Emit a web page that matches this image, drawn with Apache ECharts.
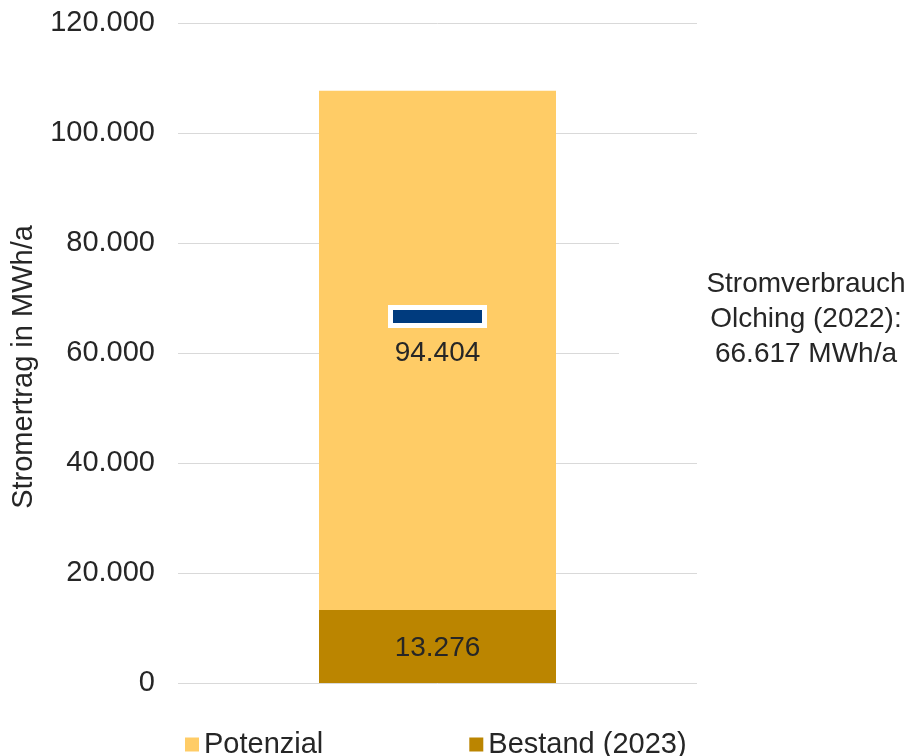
<!DOCTYPE html>
<html>
<head>
<meta charset="utf-8">
<script src="https://cdn.jsdelivr.net/npm/echarts@6/dist/echarts.min.js"></script>
<style>html,body{margin:0;padding:0;background:#fff;}#c{width:909px;height:756px;}</style>
</head>
<body>
<div id="c"></div>
<script>
var categories = ['Olching'];
var bestand = [13276];
var potenzial = [94404];
var verbrauch = [66617];
var seriesNames = ['Potenzial', 'Bestand (2023)'];
var yTitle = 'Stromertrag in MWh/a';
var noteLines = ['Stromverbrauch', 'Olching (2022):', '66.617 MWh/a'];

function de(v) { return String(v).replace(/\B(?=(\d{3})+(?!\d))/g, '.'); }

var FONT = '"Liberation Sans", Arial, sans-serif';
var TXT = '#262626';
var chart = echarts.init(document.getElementById('c'));
chart.setOption({
  animation: false,
  textStyle: { fontFamily: FONT },
  grid: { left: 178, right: 212, top: 23, bottom: 73 },
  legend: {
    data: seriesNames,
    left: 180, top: 725,
    itemWidth: 14, itemHeight: 14, itemGap: 146, itemTextGap: 8,
    icon: 'rect',
    textStyle: { fontSize: 29, color: TXT, fontFamily: FONT }
  },
  xAxis: {
    type: 'category', data: categories,
    axisLine: { show: false }, axisTick: { show: false }, axisLabel: { show: false }
  },
  yAxis: {
    type: 'value', min: 0, max: 120000, interval: 20000,
    axisLine: { show: false }, axisTick: { show: false },
    axisLabel: { fontSize: 29, color: TXT, margin: 23, formatter: function (v) { return de(v); } },
    splitLine: { lineStyle: { color: '#d9d9d9', width: 1 } }
  },
  graphic: [
    { type: 'text', x: 24, y: 367, rotation: Math.PI / 2, style: { text: yTitle, textAlign: 'center', textVerticalAlign: 'middle', font: '29px ' + FONT, fill: TXT } },
    { type: 'rect', z: 10, shape: { x: 619, y: 236, width: 290, height: 124 }, style: { fill: '#fff' } },
    { type: 'text', z: 11, x: 806, y: 267, style: { text: noteLines.join('\n'), textAlign: 'center', font: '28px ' + FONT, fill: TXT, lineHeight: 35 } }
  ],
  series: [
    { name: seriesNames[1], type: 'bar', stack: 's', data: bestand, barWidth: 237,
      itemStyle: { color: '#BB8500' },
      label: { show: true, position: 'inside', offset: [0, 2], fontSize: 28, color: TXT, fontFamily: FONT, formatter: function (p) { return de(p.value); } } },
    { name: seriesNames[0], type: 'bar', stack: 's', data: potenzial, barWidth: 237,
      itemStyle: { color: '#FFCC66' },
      label: { show: true, position: 'inside', offset: [0, 3], fontSize: 28, color: TXT, fontFamily: FONT, formatter: function (p) { return de(p.value); } } },
    { name: 'Stromverbrauch Rand', type: 'scatter', data: verbrauch, symbol: 'rect', symbolSize: [99, 23], z: 5,
      itemStyle: { color: '#ffffff', opacity: 1 } },
    { name: 'Stromverbrauch', type: 'scatter', data: verbrauch, symbol: 'rect', symbolSize: [89, 13], z: 6,
      itemStyle: { color: '#003B7E', opacity: 1 } }
  ]
});
</script>
</body>
</html>
